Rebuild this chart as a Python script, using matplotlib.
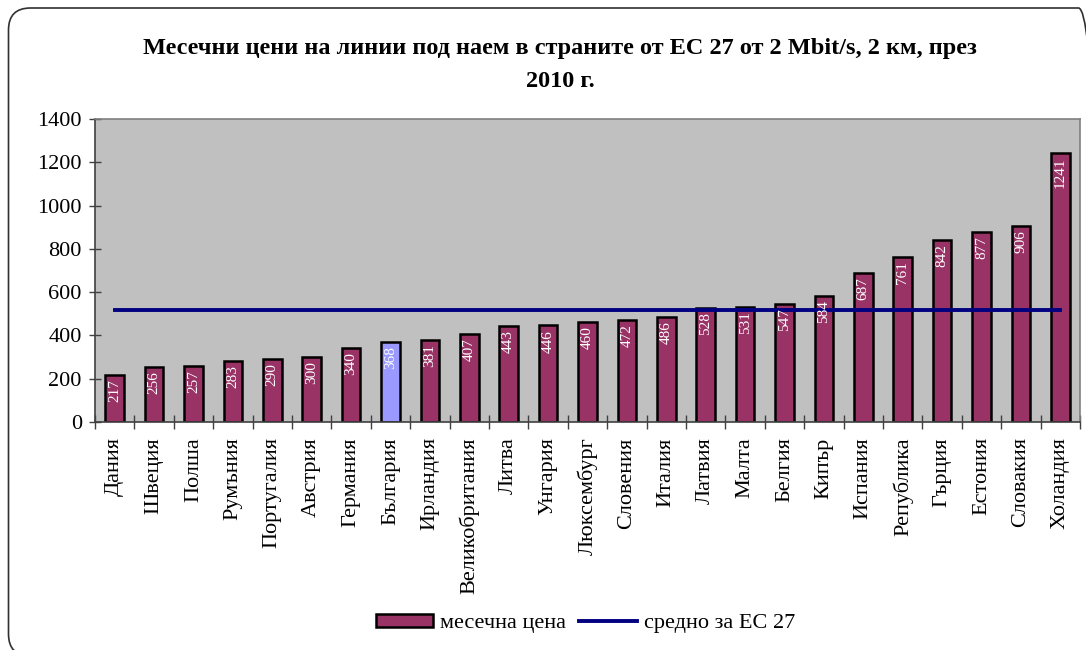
import matplotlib
matplotlib.use("Agg")
import matplotlib.pyplot as plt
from matplotlib.patches import FancyBboxPatch, Patch
from matplotlib.lines import Line2D

plt.rcParams['font.family'] = ['Liberation Serif', 'DejaVu Serif']

# data
countries = ["Дания", "Швеция", "Полша", "Румъния", "Португалия", "Австрия",
             "Германия", "България", "Ирландия", "Великобритания", "Литва",
             "Унгария", "Люксембург", "Словения", "Италия", "Латвия", "Малта",
             "Белгия", "Кипър", "Испания", "Република", "Гърция", "Естония",
             "Словакия", "Холандия"]
prices = [217, 256, 257, 283, 290, 300, 340, 368, 381, 407, 443, 446, 460,
          472, 486, 528, 531, 547, 584, 687, 761, 842, 877, 906, 1241]
avg_eu27 = 516
highlight = "България"

bar_color = "#993366"
hl_color = "#9999FF"
line_color = "#000080"

fig = plt.figure(figsize=(10.86, 6.5), dpi=100)

# rounded frame (in inches); in the original it runs off the right and bottom edges
frame = FancyBboxPatch((0.085, -0.06), 10.92, 6.48,
                       boxstyle="round,pad=0,rounding_size=0.22",
                       transform=fig.dpi_scale_trans, fill=False,
                       edgecolor="#303030", linewidth=1.2)
fig.patches.append(frame)

ax = fig.add_axes([0.0875, 0.3508, 0.907, 0.4661])
ax.set_facecolor("#C0C0C0")

x = list(range(len(countries)))
colors = [hl_color if c == highlight else bar_color for c in countries]
ax.bar(x, prices, width=0.47, color=colors, edgecolor="black", linewidth=1.8, zorder=2)
ax.plot([x[0], x[-1]], [avg_eu27, avg_eu27], color=line_color, linewidth=2.8, zorder=3)

for xi, v in zip(x, prices):
    ax.annotate(str(v), (xi, v), xytext=(0, -3), textcoords="offset points",
                rotation=90, ha="center", va="top", color="white", fontsize=11, zorder=4)

ax.set_xlim(-0.5, len(countries) - 0.5)
ax.set_ylim(0, 1400)
ax.set_yticks(range(0, 1401, 200))
ax.tick_params(axis="y", direction="inout", length=9, width=1, labelsize=16, pad=5,
               color="#404040")
ax.set_xticks(x)
ax.set_xticklabels(countries, rotation=90, fontsize=16)
ax.set_xticks([i + 0.5 for i in range(-1, len(countries))], minor=True)
ax.tick_params(axis="x", which="major", length=0, pad=11)
ax.tick_params(axis="x", which="minor", direction="inout", length=10, width=1, color="#404040")

for side in ["top", "right"]:
    ax.spines[side].set_color("#808080")
    ax.spines[side].set_linewidth(1.2)
for side in ["left", "bottom"]:
    ax.spines[side].set_color("#404040")
    ax.spines[side].set_linewidth(1.2)

fig.text(0.516, 0.926, "Месечни цени на линии под наем в страните от ЕС 27 от 2 Mbit/s, 2 км, през",
         ha="center", va="center", fontsize=17.5, fontweight="bold")
fig.text(0.516, 0.874, "2010 г.", ha="center", va="center", fontsize=17.5, fontweight="bold")

handles = [Patch(facecolor=bar_color, edgecolor="black", linewidth=1.8),
           Line2D([0], [0], color=line_color, linewidth=2.8)]
fig.legend(handles, ["месечна цена", "средно за ЕС 27"], loc="center",
           bbox_to_anchor=(0.539, 0.041), ncol=2, frameon=False, fontsize=16,
           handlelength=2.6, handleheight=0.55, handletextpad=0.3, columnspacing=0.6)

fig.savefig("out.png", dpi=100)
